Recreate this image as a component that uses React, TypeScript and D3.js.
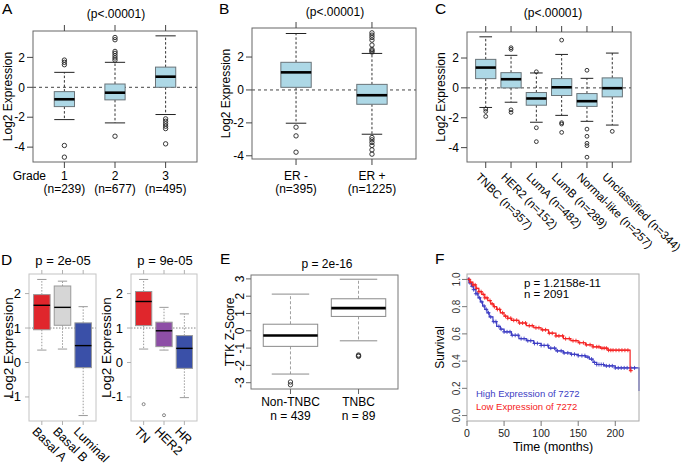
import React from "react";
import * as d3 from "d3";

const FONT = "'Liberation Sans', Arial, Helvetica, sans-serif";

// ---- A: grade ----
const gradeNames = ["1", "2", "3"];
const gradeCounts = ["(n=239)", "(n=677)", "(n=495)"];
// [lower whisker, q1, median, q3, upper whisker]
const gradeBoxes = [
  [-2.16, -1.29, -0.8, -0.29, 1.0],
  [-2.38, -0.84, -0.36, 0.22, 1.67],
  [-1.82, 0.0, 0.71, 1.35, 3.44],
];
const gradeOutliers = [
  [1.51, 1.67, 1.82, -3.89, -4.67],
  [1.82, 1.96, 2.11, 2.27, 2.4, 3.18, 3.33, -3.27],
  [-2.11, -2.27, -2.44, -2.6, -2.76, -3.78],
];

// ---- B: ER status ----
const erNames = ["ER -", "ER +"];
const erCounts = ["(n=395)", "(n=1225)"];
const erBoxes = [
  [-2.02, 0.16, 1.07, 1.68, 3.43],
  [-2.69, -0.87, -0.32, 0.34, 2.22],
];
const erOutliers = [
  [-2.26, -2.79, -3.78],
  [2.3, 2.38, 2.46, 2.73, 3.03, 3.19, 3.33, 3.47, -2.89, -3.03, -3.19, -3.37, -3.64, -3.9],
];

// ---- C: PAM50 subtypes ----
const subtypeLabels = [
  "TNBC (n=357)",
  "HER2 (n=152)",
  "LumA (n=482)",
  "LumB (n=289)",
  "Normal-like (n=257)",
  "Unclassified (n=344)",
];
const subtypeBoxes = [
  [-1.31, 0.62, 1.36, 1.91, 3.42],
  [-0.96, 0.0, 0.58, 1.02, 2.18],
  [-2.3, -1.16, -0.71, -0.31, 1.0],
  [-1.84, -0.51, 0.04, 0.62, 2.24],
  [-2.24, -1.24, -0.89, -0.38, 0.64],
  [-2.49, -0.6, -0.02, 0.67, 2.33],
];
const subtypeOutliers = [
  [-1.42, -1.58, -1.91],
  [2.58, 2.69, -1.47, -1.64],
  [1.08, -2.67, -3.6],
  [3.2, -2.33, -2.42, -2.98],
  [1.18, -2.76, -3.24, -3.71, -3.87, -4.64],
  [-2.91],
];

// ---- D: cell lines ----
const cellNames = ["Basal A", "Basal B", "Luminal"];
const cellBoxes = [
  [0.36, 0.95, 1.66, 1.97, 2.41],
  [0.39, 1.08, 1.6, 2.22, 2.36],
  [-1.54, -0.15, 0.49, 1.15, 1.62],
];
const cellOutliers: number[][] = [[], [], []];
const receptorNames = ["TN", "HER2", "HR"];
const receptorBoxes = [
  [0.39, 1.07, 1.77, 2.06, 2.41],
  [0.36, 0.46, 0.92, 1.17, 1.6],
  [-1.02, -0.17, 0.41, 0.78, 1.41],
];
const receptorOutliers = [[-1.21], [-1.53], []];

// ---- E: TTK z-score ----
const tnbcNames = ["Non-TNBC", "TNBC"];
const tnbcCounts = ["n = 439", "n = 89"];
const tnbcBoxes = [
  [-2.5, -0.9, -0.27, 0.38, 2.12],
  [-0.58, 0.83, 1.31, 1.85, 2.98],
];
const tnbcOutliers = [
  [-2.96, -3.12],
  [-1.4, -1.44, -1.48],
];

// ---- F: Kaplan-Meier ----
const lowTimes = [0, 4, 8, 12, 16, 20, 24, 28, 32, 36, 40, 45, 50, 55, 60, 70, 80, 90, 100, 110, 120, 130, 140, 150, 160, 170, 180, 190, 220];
const lowSurv = [1.0, 0.98, 0.96, 0.935, 0.91, 0.89, 0.865, 0.845, 0.82, 0.8, 0.78, 0.755, 0.73, 0.715, 0.7, 0.68, 0.66, 0.645, 0.63, 0.605, 0.585, 0.565, 0.55, 0.535, 0.52, 0.505, 0.495, 0.48, 0.33];
const lowEnd = 222;
const lowCensor = [3, 5, 8, 11, 13, 16, 19, 22, 24, 27, 31, 34, 37, 41, 44, 48, 52, 55, 59, 63, 67, 71, 75, 79, 84, 88, 93, 97, 102, 106, 111, 115, 120, 124, 129, 133, 138, 143, 147, 152, 157, 161, 166, 170, 175, 178, 182, 185, 188, 191, 194, 197, 201, 205, 209, 213, 217, 221];

const highTimes = [0, 3, 6, 9, 12, 15, 18, 21, 24, 27, 30, 35, 40, 45, 50, 60, 70, 80, 90, 100, 110, 120, 130, 140, 150, 160, 165, 170, 175, 185, 200, 232];
const highSurv = [1.0, 0.975, 0.95, 0.925, 0.895, 0.865, 0.835, 0.805, 0.78, 0.755, 0.725, 0.69, 0.655, 0.635, 0.615, 0.59, 0.565, 0.55, 0.53, 0.515, 0.495, 0.475, 0.46, 0.45, 0.44, 0.43, 0.415, 0.39, 0.375, 0.365, 0.35, 0.18];
const highEnd = 232;
const highCensor = [2, 4, 7, 9, 12, 14, 17, 20, 23, 26, 29, 32, 36, 39, 43, 46, 50, 54, 58, 61, 65, 69, 73, 77, 82, 86, 91, 95, 100, 104, 109, 113, 118, 122, 127, 131, 136, 141, 145, 150, 155, 159, 163, 168, 172, 175, 178, 181, 184, 188, 192, 196, 200, 204, 208, 212, 216, 221, 226];

const timeTicks = [0, 50, 100, 150, 200];
const survTicks = [0, 0.2, 0.4, 0.6, 0.8, 1.0];

type Frame = { x: number; y: number; w: number; h: number };

type BoxStyle = {
  fills: string[];
  boxStroke: string;
  whisker: string;
  whiskerDash: string;
  cap: string;
  medianWidth: number;
  frame: string;
  axis: string;
  boxFrac: number;
  capFrac: number;
  outlierR: number;
  outlier: string;
  font: number;
  tickLen: number;
};

// R pads the data range by 4% on each side
const padRange = (lo: number, hi: number): [number, number] => {
  const d = (hi - lo) * 0.04;
  return [lo - d, hi + d];
};

const dataDomain = (boxes: number[][], outs: number[][]): [number, number] => {
  const all = [...boxes.flat(), ...outs.flat()];
  return padRange(d3.min(all)!, d3.max(all)!);
};

const catScale = (n: number, f: Frame) => {
  const pad = 0.04 * n;
  return d3.scaleLinear().domain([0.5 - pad, n + 0.5 + pad]).range([f.x, f.x + f.w]);
};

const blueStyle: BoxStyle = {
  fills: ["#add8e6"],
  boxStroke: "#6a7479",
  whisker: "#333",
  whiskerDash: "2.5,2",
  cap: "#222",
  medianWidth: 2.6,
  frame: "#666",
  axis: "#444",
  boxFrac: 0.8,
  capFrac: 0.5,
  outlierR: 2.2,
  outlier: "#222",
  font: 12,
  tickLen: 6,
};

function BoxPlot(props: {
  frame: Frame;
  boxes: number[][];
  outliers: number[][];
  domain: [number, number];
  yTicks: number[];
  style: BoxStyle;
  refLine?: { value: number; dash: string; color: string };
  topTicks: boolean;
  rotateYTicks?: boolean;
}) {
  const { frame, boxes, outliers, domain, yTicks, style, refLine, topTicks, rotateYTicks } = props;
  const n = boxes.length;
  const x = catScale(n, frame);
  const y = d3.scaleLinear().domain(domain).range([frame.y + frame.h, frame.y]);
  const step = x(2) - x(1);
  const bw = step * style.boxFrac;
  const cw = step * style.capFrac;
  const tl = style.tickLen;
  return (
    <g>
      {refLine && (
        <line
          x1={frame.x}
          x2={frame.x + frame.w}
          y1={y(refLine.value)}
          y2={y(refLine.value)}
          stroke={refLine.color}
          strokeDasharray={refLine.dash}
        />
      )}
      {boxes.map((b, i) => {
        const cx = x(i + 1);
        const [lo, q1, med, q3, hi] = b;
        return (
          <g key={i}>
            <line x1={cx} x2={cx} y1={y(q3)} y2={y(hi)} stroke={style.whisker} strokeDasharray={style.whiskerDash} />
            <line x1={cx} x2={cx} y1={y(q1)} y2={y(lo)} stroke={style.whisker} strokeDasharray={style.whiskerDash} />
            <line x1={cx - cw / 2} x2={cx + cw / 2} y1={y(hi)} y2={y(hi)} stroke={style.cap} />
            <line x1={cx - cw / 2} x2={cx + cw / 2} y1={y(lo)} y2={y(lo)} stroke={style.cap} />
            <rect
              x={cx - bw / 2}
              y={y(q3)}
              width={bw}
              height={y(q1) - y(q3)}
              fill={style.fills[i % style.fills.length]}
              stroke={style.boxStroke}
            />
            <line x1={cx - bw / 2} x2={cx + bw / 2} y1={y(med)} y2={y(med)} stroke="#000" strokeWidth={style.medianWidth} />
            {outliers[i].map((o, j) => (
              <circle key={j} cx={cx} cy={y(o)} r={style.outlierR} fill="none" stroke={style.outlier} strokeWidth={0.9} />
            ))}
          </g>
        );
      })}
      <rect x={frame.x} y={frame.y} width={frame.w} height={frame.h} fill="none" stroke={style.frame} />
      {yTicks.map((t) => (
        <g key={t}>
          <line x1={frame.x - tl} x2={frame.x} y1={y(t)} y2={y(t)} stroke={style.axis} />
          {rotateYTicks ? (
            <text
              transform={`translate(${frame.x - 7},${y(t)}) rotate(-90)`}
              textAnchor="middle"
              fontSize={style.font}
            >
              {t}
            </text>
          ) : (
            <text x={frame.x - 8} y={y(t)} dy="0.35em" textAnchor="end" fontSize={style.font}>
              {t}
            </text>
          )}
        </g>
      ))}
      {d3.range(1, n + 1).map((i) => (
        <g key={i}>
          <line x1={x(i)} x2={x(i)} y1={frame.y + frame.h} y2={frame.y + frame.h + tl} stroke={style.axis} />
          {topTicks && <line x1={x(i)} x2={x(i)} y1={frame.y} y2={frame.y - tl} stroke={style.axis} />}
        </g>
      ))}
    </g>
  );
}

const YLabel = ({ x, y, text, size, color = "#000" }: { x: number; y: number; text: string; size: number; color?: string }) => (
  <text transform={`translate(${x},${y}) rotate(-90)`} textAnchor="middle" dy="0.35em" fontSize={size} fill={color}>
    {text}
  </text>
);

const abcTicks = [-4, -2, 0, 2];
const zeroLine = { value: 0, dash: "3,3", color: "#444" };

const frameA: Frame = { x: 33, y: 31, w: 164, h: 131 };
function PanelA() {
  const x = catScale(gradeNames.length, frameA);
  return (
    <g>
      <text x={2} y={14} fontSize={15.5}>A</text>
      <text x={116} y={18} fontSize={12} textAnchor="middle">{"(p<.00001)"}</text>
      <YLabel x={8} y={frameA.y + frameA.h / 2} text="Log2 Expression" size={12} />
      <BoxPlot
        frame={frameA}
        boxes={gradeBoxes}
        outliers={gradeOutliers}
        domain={dataDomain(gradeBoxes, gradeOutliers)}
        yTicks={abcTicks}
        style={{ ...blueStyle, boxFrac: 0.4, capFrac: 0.4 }}
        refLine={zeroLine}
        topTicks
      />
      <text x={46} y={180} textAnchor="end" fontSize={12}>Grade</text>
      {gradeNames.map((g, i) => (
        <g key={g}>
          <text x={x(i + 1)} y={180} textAnchor="middle" fontSize={12}>{g}</text>
          <text x={x(i + 1)} y={193} textAnchor="middle" fontSize={12}>{gradeCounts[i]}</text>
        </g>
      ))}
    </g>
  );
}

const frameB: Frame = { x: 252, y: 28, w: 164, h: 131 };
function PanelB() {
  const x = catScale(erNames.length, frameB);
  return (
    <g>
      <text x={219} y={14} fontSize={15.5}>B</text>
      <text x={335} y={16} fontSize={12} textAnchor="middle">{"(p<.00001)"}</text>
      <YLabel x={226} y={frameB.y + frameB.h / 2} text="Log2 Expression" size={12} />
      <BoxPlot
        frame={frameB}
        boxes={erBoxes}
        outliers={erOutliers}
        domain={dataDomain(erBoxes, erOutliers)}
        yTicks={abcTicks}
        style={{ ...blueStyle, boxFrac: 0.4, capFrac: 0.27 }}
        refLine={zeroLine}
        topTicks
      />
      {erNames.map((g, i) => (
        <g key={g}>
          <text x={x(i + 1)} y={180} textAnchor="middle" fontSize={12}>{g}</text>
          <text x={x(i + 1)} y={193} textAnchor="middle" fontSize={12}>{erCounts[i]}</text>
        </g>
      ))}
    </g>
  );
}

const frameC: Frame = { x: 467, y: 32, w: 164, h: 130 };
function PanelC() {
  const x = catScale(subtypeLabels.length, frameC);
  return (
    <g>
      <text x={435} y={14} fontSize={15.5}>C</text>
      <text x={553} y={17} fontSize={12} textAnchor="middle">{"(p<.00001)"}</text>
      <YLabel x={441} y={frameC.y + frameC.h / 2} text="Log2 Expression" size={12} />
      <BoxPlot
        frame={frameC}
        boxes={subtypeBoxes}
        outliers={subtypeOutliers}
        domain={dataDomain(subtypeBoxes, subtypeOutliers)}
        yTicks={abcTicks}
        style={{ ...blueStyle, outlierR: 1.9 }}
        refLine={zeroLine}
        topTicks
      />
      {subtypeLabels.map((g, i) => (
        <text
          key={g}
          transform={`translate(${x(i + 1) - 5},172) rotate(45)`}
          dominantBaseline="hanging"
          fontSize={11.5}
        >
          {g}
        </text>
      ))}
    </g>
  );
}

const dStyle: BoxStyle = {
  fills: [],
  boxStroke: "#9a9a9a",
  whisker: "#9a9a9a",
  whiskerDash: "1.5,1.5",
  cap: "#9a9a9a",
  medianWidth: 1.4,
  frame: "#c4c4c4",
  axis: "#b0b0b0",
  boxFrac: 0.8,
  capFrac: 0.45,
  outlierR: 1.5,
  outlier: "#777",
  font: 13,
  tickLen: 4,
};
const dTicks = [-1, 0, 1, 2];
const frameD1: Frame = { x: 29, y: 274, w: 67, h: 147 };
const frameD2: Frame = { x: 131, y: 274, w: 66, h: 147 };
function PanelD() {
  const x1 = catScale(cellNames.length, frameD1);
  const x2 = catScale(receptorNames.length, frameD2);
  const all = dataDomain([...cellBoxes, ...receptorBoxes], [...cellOutliers, ...receptorOutliers]);
  const ref = { value: 1, dash: "1.5,1.5", color: "#888" };
  return (
    <g>
      <text x={1} y={265} fontSize={15.5}>D</text>
      <text x={63} y={265} fontSize={13} textAnchor="middle">p = 2e-05</text>
      <text x={165} y={265} fontSize={13} textAnchor="middle">p = 9e-05</text>
      <YLabel x={8} y={frameD1.y + frameD1.h / 2} text="Log2 Expression" size={13.5} />
      <YLabel x={106} y={frameD2.y + frameD2.h / 2} text="Log2 Expression" size={13.5} />
      <BoxPlot
        frame={frameD1}
        boxes={cellBoxes}
        outliers={cellOutliers}
        domain={all}
        yTicks={dTicks}
        style={{ ...dStyle, fills: ["#e0262c", "#d6d6d6", "#3a50a8"] }}
        refLine={ref}
        topTicks
      />
      <BoxPlot
        frame={frameD2}
        boxes={receptorBoxes}
        outliers={receptorOutliers}
        domain={all}
        yTicks={dTicks}
        style={{ ...dStyle, fills: ["#e0262c", "#8d4ea6", "#3a50a8"] }}
        refLine={ref}
        topTicks
      />
      {cellNames.map((g, i) => (
        <text key={g} transform={`translate(${x1(i + 1) - 4},426) rotate(45)`} dominantBaseline="hanging" fontSize={12.5}>
          {g}
        </text>
      ))}
      {receptorNames.map((g, i) => (
        <text key={g} transform={`translate(${x2(i + 1) - 4},426) rotate(45)`} dominantBaseline="hanging" fontSize={12.5}>
          {g}
        </text>
      ))}
    </g>
  );
}

const frameE: Frame = { x: 251, y: 275, w: 147, h: 114 };
function PanelE() {
  const x = catScale(tnbcNames.length, frameE);
  return (
    <g>
      <text x={220} y={264} fontSize={15.5}>E</text>
      <text x={327} y={268} fontSize={12} textAnchor="middle">p = 2e-16</text>
      <YLabel x={230} y={frameE.y + frameE.h / 2} text="TTK Z-Score" size={12} />
      <BoxPlot
        frame={frameE}
        boxes={tnbcBoxes}
        outliers={tnbcOutliers}
        domain={dataDomain(tnbcBoxes, tnbcOutliers)}
        yTicks={[-3, -2, -1, 0, 1, 2, 3]}
        style={{
          ...blueStyle,
          fills: ["#fff"],
          boxStroke: "#8a8a8a",
          whisker: "#a0a0a0",
          whiskerDash: "3,2",
          cap: "#8a8a8a",
          frame: "#777",
          axis: "#666",
          capFrac: 0.55,
          outlier: "#333",
          tickLen: 5,
        }}
        topTicks={false}
        rotateYTicks
      />
      {tnbcNames.map((g, i) => (
        <g key={g}>
          <text x={x(i + 1)} y={406} textAnchor="middle" fontSize={12}>{g}</text>
          <text x={x(i + 1)} y={419.5} textAnchor="middle" fontSize={12}>{tnbcCounts[i]}</text>
        </g>
      ))}
    </g>
  );
}

const frameF: Frame = { x: 467, y: 274, w: 172, h: 147 };
const fBlue = "#3d3dc4";
const fRed = "#f52222";
function PanelF() {
  const x = d3.scaleLinear().domain([0, 232]).range([frameF.x, frameF.x + frameF.w]);
  const y = d3.scaleLinear().domain([-0.04, 1.04]).range([frameF.y + frameF.h, frameF.y]);
  const line = d3
    .line<[number, number]>()
    .x((d) => x(d[0]))
    .y((d) => y(d[1]))
    .curve(d3.curveStepAfter);
  const curves = [
    { times: highTimes, surv: highSurv, end: highEnd, censor: highCensor, color: fBlue },
    { times: lowTimes, surv: lowSurv, end: lowEnd, censor: lowCensor, color: fRed },
  ];
  return (
    <g>
      <text x={435} y={264} fontSize={15.5}>F</text>
      <YLabel x={440} y={frameF.y + frameF.h / 2} text="Survival" size={12} />
      {curves.map((c, k) => {
        const pts: [number, number][] = c.times.map((t, i) => [t, c.surv[i]]);
        pts.push([c.end, c.surv[c.surv.length - 1]]);
        return (
          <g key={k}>
            <path d={line(pts) ?? ""} fill="none" stroke={c.color} strokeWidth={1.2} />
            {c.censor.map((t) => {
              const s = c.surv[d3.bisectRight(c.times, t) - 1];
              const cx = x(t);
              const cy = y(s);
              return (
                <path key={t} d={`M${cx - 2},${cy}H${cx + 2}M${cx},${cy - 2}V${cy + 2}`} stroke={c.color} strokeWidth={0.9} />
              );
            })}
          </g>
        );
      })}
      <rect x={frameF.x} y={frameF.y} width={frameF.w} height={frameF.h} fill="none" stroke="#a8a8a8" />
      {timeTicks.map((t) => (
        <g key={t}>
          <line x1={x(t)} x2={x(t)} y1={frameF.y + frameF.h} y2={frameF.y + frameF.h + 5} stroke="#777" />
          <text x={x(t)} y={437} textAnchor="middle" fontSize={10.5} fill="#222">{t}</text>
        </g>
      ))}
      {survTicks.map((t) => (
        <g key={t}>
          <line x1={frameF.x - 5} x2={frameF.x} y1={y(t)} y2={y(t)} stroke="#777" />
          <text transform={`translate(460,${y(t)}) rotate(-90)`} textAnchor="middle" fontSize={10} fill="#333">
            {t.toFixed(1)}
          </text>
        </g>
      ))}
      <text x={553} y={451} textAnchor="middle" fontSize={12.5}>Time (months)</text>
      <text x={524} y={286.5} fontSize={11.5}>p = 1.2158e-11</text>
      <text x={524} y={297.5} fontSize={11.5}>n = 2091</text>
      <text x={476} y={397} fontSize={9.5} fill={fBlue}>High Expression of 7272</text>
      <text x={476} y={410} fontSize={9.5} fill={fRed}>Low Expression of 7272</text>
    </g>
  );
}

export default function App() {
  return (
    <svg
      width={685}
      height={464}
      style={{ position: "absolute", left: 0, top: 0, display: "block" }}
      fontFamily={FONT}
    >
      <rect width={685} height={464} fill="#fff" />
      <PanelA />
      <PanelB />
      <PanelC />
      <PanelD />
      <PanelE />
      <PanelF />
    </svg>
  );
}
